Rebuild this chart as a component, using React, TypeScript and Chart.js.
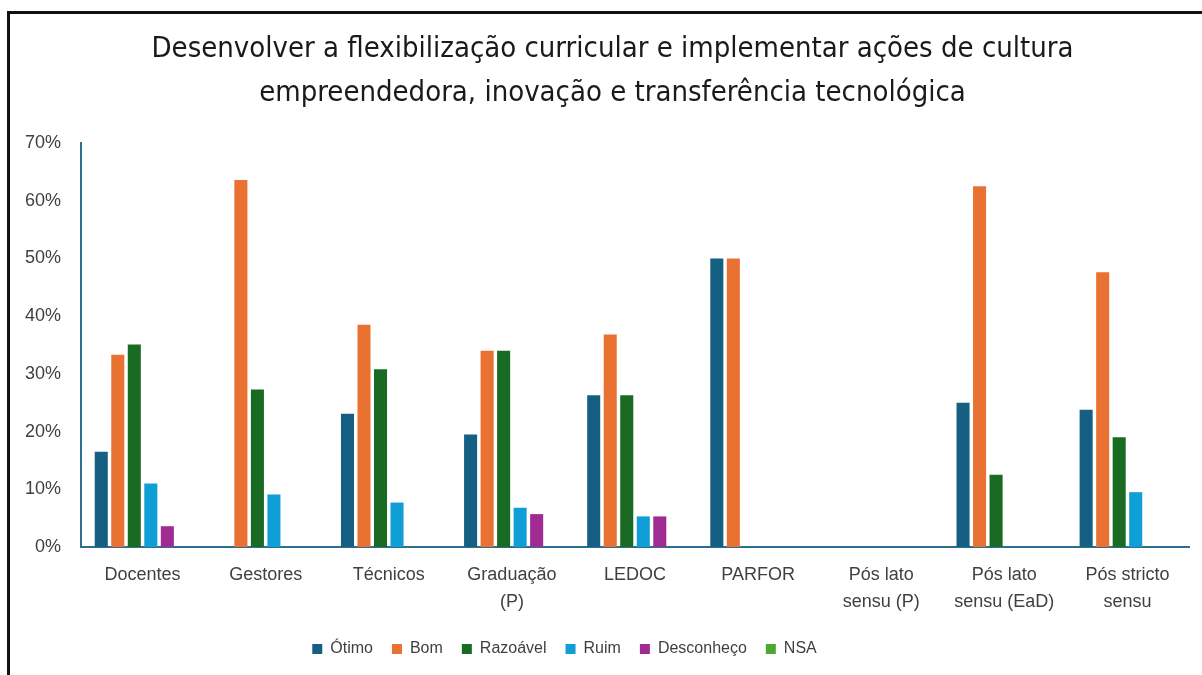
import React, { useEffect, useRef } from "react";
import { Chart, registerables } from "chart.js";

Chart.register(...registerables);

const titleLines = [
  "Desenvolver a flexibilização curricular e implementar ações de cultura",
  "empreendedora, inovação e transferência tecnológica",
];

const categories: (string | string[])[] = [
  "Docentes",
  "Gestores",
  "Técnicos",
  ["Graduação", "(P)"],
  "LEDOC",
  "PARFOR",
  ["Pós lato", "sensu (P)"],
  ["Pós lato", "sensu (EaD)"],
  ["Pós stricto", "sensu"],
];

const seriesNames = ["Ótimo", "Bom", "Razoável", "Ruim", "Desconheço", "NSA"];

const otimo = [16.5, 0, 23.1, 19.5, 26.3, 50, 0, 25, 23.8];
const bom = [33.3, 63.6, 38.5, 34.0, 36.8, 50, 0, 62.5, 47.6];
const razoavel = [35.1, 27.3, 30.8, 34.0, 26.3, 0, 0, 12.5, 19.0];
const ruim = [11.0, 9.1, 7.7, 6.8, 5.3, 0, 0, 0, 9.5];
const desconheco = [3.6, 0, 0, 5.7, 5.3, 0, 0, 0, 0];
const nsa = [0, 0, 0, 0, 0, 0, 0, 0, 0];

const yTicks = [0, 10, 20, 30, 40, 50, 60, 70];

const colors = ["#156082", "#E97132", "#196B24", "#0F9ED5", "#A02B93", "#4EA72E"];

const LEGEND_SHIFT = -30;
const TITLE_SHIFT = 18;

export default function App() {
  const ref = useRef<HTMLCanvasElement | null>(null);

  useEffect(() => {
    document.body.style.margin = "0";
    const canvas = ref.current;
    if (!canvas) return;
    const values = [otimo, bom, razoavel, ruim, desconheco, nsa];
    const shiftBoxes = {
      id: "shiftBoxes",
      afterLayout(chart: any) {
        if (chart.legend) {
          chart.legend.left += LEGEND_SHIFT;
          chart.legend.right += LEGEND_SHIFT;
        }
        if (chart.titleBlock) {
          chart.titleBlock.left += TITLE_SHIFT;
          chart.titleBlock.right += TITLE_SHIFT;
        }
      },
    };
    const chart = new Chart(canvas, {
      type: "bar",
      data: {
        labels: categories as any,
        datasets: seriesNames.map((name, i) => ({
          label: name,
          data: values[i],
          backgroundColor: colors[i],
          borderWidth: 0,
          categoryPercentage: 0.805,
          barPercentage: 0.79,
        })),
      },
      options: {
        animation: false,
        responsive: false,
        maintainAspectRatio: false,
        layout: { padding: { left: 0, right: 13, top: 0, bottom: 8 } },
        plugins: {
          title: {
            display: true,
            text: titleLines,
            color: "#1a1a1a",
            font: {
              family: "'Liberation Sans Narrow', 'DejaVu Sans Condensed', 'Liberation Sans', sans-serif",
              size: 29,
              weight: "normal",
              lineHeight: 1.5,
            },
            padding: { top: 28, bottom: 28 },
          },
          legend: {
            position: "bottom",
            labels: {
              color: "#404040",
              boxWidth: 10,
              boxHeight: 10,
              padding: 19,
              font: { family: "'Liberation Sans', Arial, sans-serif", size: 16 },
            },
          },
          tooltip: { enabled: false },
        },
        scales: {
          x: {
            grid: { display: false, drawTicks: false },
            border: { display: true, color: "#2c6f93", width: 2 },
            ticks: {
              color: "#404040",
              padding: 15,
              maxRotation: 0,
              autoSkip: false,
              font: { family: "'Liberation Sans', Arial, sans-serif", size: 18, lineHeight: 1.5 },
            },
            afterFit: (s: any) => {
              s.height = 75;
            },
          },
          y: {
            min: 0,
            max: 70,
            afterBuildTicks: (s: any) => {
              s.ticks = yTicks.map((v) => ({ value: v }));
            },
            grid: { display: false, drawTicks: false },
            border: { display: true, color: "#2c6f93", width: 2 },
            ticks: {
              color: "#404040",
              padding: 20,
              font: { family: "'Liberation Sans', Arial, sans-serif", size: 18 },
              callback: (v: any) => `${v}%`,
            },
            afterFit: (s: any) => {
              s.width = 81;
            },
          },
        },
      },
      plugins: [shiftBoxes],
    });
    return () => chart.destroy();
  }, []);

  return (
    <div style={{ position: "relative", width: 1202, height: 675, overflow: "hidden", background: "#fff" }}>
      <canvas ref={ref} width={1202} height={675} style={{ position: "absolute", left: 0, top: 0 }} />
      <div
        style={{
          position: "absolute",
          left: 7,
          top: 11,
          width: 1230,
          height: 700,
          borderLeft: "3px solid #111",
          borderTop: "3px solid #111",
          pointerEvents: "none",
        }}
      />
    </div>
  );
}
